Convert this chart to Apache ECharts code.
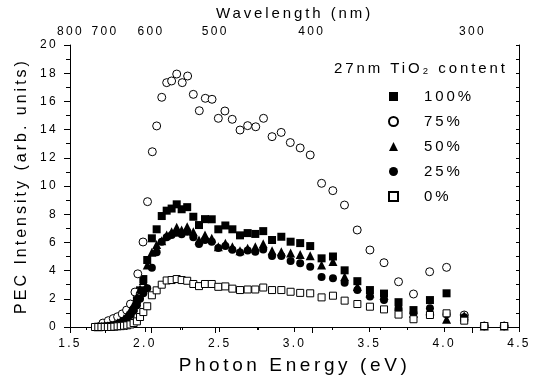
<!DOCTYPE html>
<html>
<head>
<meta charset="utf-8">
<script src="https://cdn.jsdelivr.net/npm/echarts@6/dist/echarts.min.js"></script>
<style>
  html, body { margin: 0; background: #fff; }
  #chart { width: 538px; height: 384px; }
</style>
</head>
<body>
<div id="chart"></div>
<script>
// photon energy grid (eV) shared by the 100/50/25/0 % runs
const energy = [1.667, 1.689, 1.710, 1.732, 1.753, 1.775, 1.796, 1.818, 1.839, 1.861, 1.882, 1.904, 1.925, 1.947, 1.968, 1.990,
  2.016, 2.047, 2.079, 2.113, 2.146, 2.179, 2.213, 2.246, 2.283, 2.324, 2.362, 2.402, 2.447, 2.491, 2.538, 2.585, 2.636, 2.687,
  2.738, 2.791, 2.850, 2.912, 2.974, 3.038, 3.105, 3.181, 3.257, 3.335, 3.420, 3.504, 3.598, 3.695, 3.795, 3.905, 4.016, 4.134,
  4.268, 4.401]

const pct100 = [null, 0.02, 0.03, 0.04, 0.06, 0.1, 0.15, 0.22, 0.32, 0.45, 0.65, 0.95, 1.35, 1.9, 2.6, 3.4,
  4.75, 6.29, 6.93, 7.87, 8.25, 8.4, 8.7, 8.35, 8.5, 7.82, 7.23, 7.65, 7.64, 6.93, 7.2, 6.93, 6.5, 6.66,
  6.6, 6.8, 6.17, 6.4, 6.05, 5.95, 5.74, 4.87, 5.0, 4.02, 3.25, 2.62, 2.37, 1.76, 1.2, 1.91, 2.39, 0.65,
  0.07, 0.07]
const pct50 = [null, 0.02, 0.03, 0.05, 0.08, 0.12, 0.2, 0.3, 0.42, 0.6, 0.85, 1.2, 1.6, 2.15, 2.7, 3.3,
  4.4, 5.3, 5.85, 6.12, 6.52, 6.76, 7.07, 6.88, 7.11, 6.76, 6.17, 6.52, 6.29, 5.7, 5.94, 5.7, 5.4, 5.58,
  5.7, 5.9, 5.4, 5.34, 5.24, 5.15, 5.05, 4.4, 4.65, 3.57, 2.88, 2.41, 2.23, 1.47, 0.97, 1.15, 0.55, 0.8,
  0.07, 0.07]
const pct25 = [null, 0.02, 0.03, 0.05, 0.07, 0.1, 0.15, 0.22, 0.32, 0.45, 0.62, 0.85, 1.15, 1.55, 2.0, 2.4,
  2.75, 4.2, 5.3, 6.05, 6.36, 6.52, 6.69, 6.57, 6.76, 6.36, 5.89, 6.17, 6.05, 5.6, 5.74, 5.47, 5.28, 5.42,
  5.34, 5.5, 5.04, 5.04, 4.68, 4.52, 4.28, 3.54, 3.45, 3.14, 2.62, 2.17, 1.91, 1.33, 0.98, 1.33, 0.9, 0.7,
  0.07, 0.07]
const pct0 = [0, 0, 0, 0, 0, 0, 0.02, 0.05, 0.06, 0.09, 0.12, 0.18, 0.28, 0.4, 0.71, 1.06,
  1.47, 2.25, 2.6, 3.0, 3.3, 3.33, 3.4, 3.33, 3.28, 3.05, 2.9, 3.05, 3.05, 2.85, 2.88, 2.72, 2.62, 2.66,
  2.66, 2.8, 2.62, 2.62, 2.5, 2.42, 2.39, 2.1, 2.22, 1.87, 1.63, 1.44, 1.25, 0.88, 0.55, 0.85, 0.97, 0.45,
  0.07, 0.07]

// 75 % run was sampled a bit differently on the low energy side
const energy75 = [1.72, 1.756, 1.789, 1.818, 1.849, 1.878, 1.904, 1.934, 1.953, 1.988, 2.018, 2.050, 2.079, 2.113,
  2.146, 2.179, 2.213, 2.250, 2.286, 2.324, 2.364, 2.404, 2.449, 2.491, 2.535, 2.584, 2.636, 2.687, 2.741, 2.793,
  2.850, 2.911, 2.972, 3.038, 3.105, 3.181, 3.256, 3.334, 3.419, 3.504, 3.598, 3.695, 3.795, 3.903, 4.016, 4.134,
  4.268, 4.401]
const pct75 = [0.28, 0.45, 0.6, 0.73, 0.93, 1.2, 1.63, 2.48, 3.77, 6.03, 8.89, 12.43, 14.26, 16.29,
  17.33, 17.45, 17.94, 17.33, 17.8, 16.5, 15.34, 16.22, 16.15, 14.8, 15.32, 14.73, 13.97, 14.28, 14.2, 14.8,
  13.5, 13.8, 13.08, 12.7, 12.2, 10.19, 9.67, 8.65, 6.88, 5.46, 4.56, 3.21, 2.34, 3.92, 4.23, 0.85,
  0.07, 0.07]

// top axis is linear in 1/wavelength (1/um), with the offset the original figure used
const wlMajor = [800, 700, 600, 500, 400, 300]
const wlMinor = [750, 650, 550, 450, 350]
const invMin = 1.247
const invMax = 3.574

const font = 'Liberation Sans, Arial, sans-serif'

// old plotting package spaced its letters out, canvas can do the same per draw call
;['fillText', 'strokeText'].forEach(fn => {
  const orig = CanvasRenderingContext2D.prototype[fn]
  CanvasRenderingContext2D.prototype[fn] = function (...args) {
    const m = /([\d.]+)px/.exec(this.font)
    this.letterSpacing = m ? (parseFloat(m[1]) * 0.19).toFixed(1) + 'px' : '0px'
    return orig.apply(this, args)
  }
})

function toPoints(xs, ys) {
  const res = []
  xs.forEach((x, i) => {
    if (ys[i] != null) res.push([x, ys[i]])
  })
  return res
}

function scatter(name, xs, ys, symbol, filled, size) {
  return {
    name: name,
    type: 'scatter',
    symbol: symbol,
    symbolSize: size,
    data: toPoints(xs, ys),
    itemStyle: filled
      ? { color: '#000', opacity: 1 }
      : { color: '#fff', borderColor: '#000', borderWidth: 1, opacity: 1 }
  }
}

const black = { color: '#000', width: 1 }

const chart = echarts.init(document.getElementById('chart'))

const option = {
  animation: false,
  textStyle: { fontFamily: font, color: '#000' },
  title: {
    text: '27nm TiO₂ content',
    left: 329,
    top: 56,
    textStyle: { fontSize: 15, fontWeight: 'normal', color: '#000', fontFamily: font }
  },
  legend: {
    orient: 'vertical',
    left: 383,
    top: 84,
    itemWidth: 9,
    itemHeight: 9,
    itemGap: 10,
    selectedMode: false,
    textStyle: { fontSize: 15, color: '#000', fontFamily: font, padding: [0, 0, 0, 21] },
    data: ['100%', '75%', '50%', '25%', '0%']
  },
  grid: { left: 70, right: 19, top: 45, bottom: 57 },
  xAxis: [
    {
      type: 'value',
      position: 'bottom',
      min: 1.5,
      max: 4.5,
      interval: 0.5,
      name: 'Photon Energy (eV)',
      nameLocation: 'middle',
      nameGap: 29,
      nameTextStyle: { fontSize: 19, color: '#000', fontFamily: font },
      axisLine: { show: true, onZero: false, lineStyle: black },
      axisTick: { length: 5, lineStyle: black },
      minorTick: { show: true, splitNumber: 2, length: 3, lineStyle: black },
      axisLabel: { fontSize: 12, color: '#000', margin: 11, formatter: v => v.toFixed(1) },
      splitLine: { show: false }
    },
    {
      type: 'value',
      position: 'top',
      min: invMin,
      max: invMax,
      name: 'Wavelength (nm)',
      nameLocation: 'middle',
      nameGap: 23,
      nameTextStyle: { fontSize: 15, color: '#000', fontFamily: font },
      axisLine: { show: true, lineStyle: black },
      axisTick: { inside: true, length: 6, lineStyle: black, customValues: wlMajor.map(nm => 1000 / nm) },
      axisLabel: {
        fontSize: 12, color: '#000', margin: 7,
        customValues: wlMajor.map(nm => 1000 / nm),
        formatter: v => Math.round(1000 / v)
      },
      splitLine: { show: false }
    },
    {
      type: 'value',
      position: 'top',
      min: invMin,
      max: invMax,
      axisLine: { show: false },
      axisTick: { inside: true, length: 3, lineStyle: black, customValues: wlMinor.map(nm => 1000 / nm) },
      axisLabel: { show: false },
      splitLine: { show: false }
    }
  ],
  yAxis: [
    {
      type: 'value',
      position: 'left',
      min: 0,
      max: 20,
      interval: 2,
      name: 'PEC Intensity (arb. units)',
      nameLocation: 'middle',
      nameGap: 40,
      nameTextStyle: { fontSize: 16, color: '#000', fontFamily: font },
      axisLine: { show: true, lineStyle: black },
      axisTick: { length: 6, lineStyle: black },
      minorTick: { show: true, splitNumber: 2, length: 4, lineStyle: black },
      axisLabel: { fontSize: 12, color: '#000', margin: 12 },
      splitLine: { show: false }
    },
    {
      type: 'value',
      position: 'right',
      min: 0,
      max: 20,
      interval: 1,
      axisLine: { show: true, lineStyle: black },
      axisTick: { inside: true, length: 3, lineStyle: black },
      axisLabel: { show: false },
      splitLine: { show: false }
    }
  ],
  series: [
    scatter('100%', energy, pct100, 'rect', true, 8),
    scatter('75%', energy75, pct75, 'circle', false, 8),
    scatter('50%', energy, pct50, 'triangle', true, 9),
    scatter('25%', energy, pct25, 'circle', true, 8),
    scatter('0%', energy, pct0, 'rect', false, 7)
  ]
}

chart.setOption(option)
</script>
</body>
</html>
